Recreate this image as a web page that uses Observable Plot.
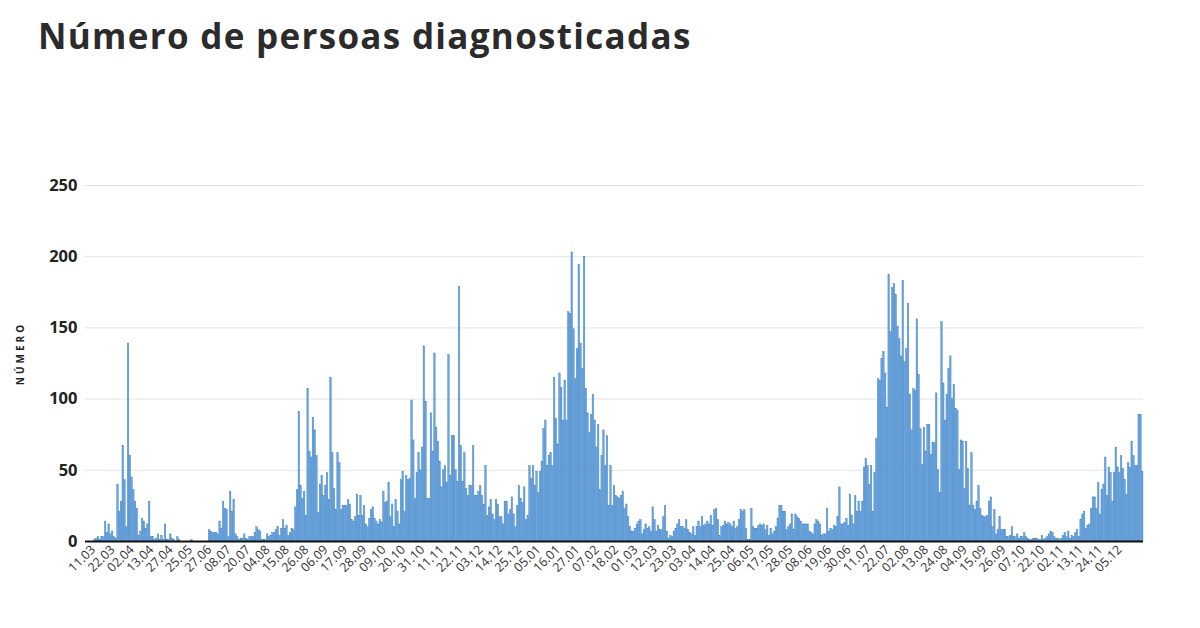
<!DOCTYPE html>
<html><head><meta charset="utf-8">
<script src="https://cdn.jsdelivr.net/npm/d3@7"></script>
<script src="https://cdn.jsdelivr.net/npm/@observablehq/plot@0.6"></script>
<style>
body{margin:0;background:#fff;width:1200px;height:628px;overflow:hidden;font-family:"Open Sans",sans-serif;}
#title{position:absolute;left:38px;top:15px;font-size:35px;font-weight:700;color:#2b2b2b;margin:0;line-height:1.2;letter-spacing:1.3px;}
#chart{position:absolute;left:0;top:80px;}
</style></head><body>
<h1 id="title">Número de persoas diagnosticadas</h1>
<div id="chart"></div>
<script>
const values = [
0,0,0,0,0,1,2,3,1,3,
3,14,6,12,5,7,3,2,40,21,
28,67,43,10,139,60,45,36,28,23,
4,7,16,14,9,12,28,3,3,1,
2,5,1,4,1,12,1,1,5,2,
1,0,3,1,0,0,0,0,0,0,
1,0,0,0,0,0,0,0,0,0,
8,7,6,6,6,5,14,9,28,23,
22,3,35,21,29,5,3,1,2,2,
5,2,1,3,3,3,6,10,8,7,
1,1,1,5,3,4,6,6,8,10,
4,9,15,9,11,4,6,9,8,24,
36,91,39,30,35,18,107,63,59,87,
78,60,20,40,46,32,39,48,29,115,
62,37,22,62,55,22,25,25,25,29,
26,15,14,17,33,18,32,18,25,12,
10,16,22,24,16,14,12,15,13,35,
27,28,41,17,26,10,29,21,12,43,
49,21,46,43,44,99,71,30,48,62,
50,66,137,98,30,30,90,63,132,80,
70,56,38,50,53,41,131,46,74,74,
50,42,179,67,42,62,37,32,39,39,
67,32,32,35,39,32,26,53,18,24,
29,19,15,29,26,17,17,12,28,28,
19,22,31,19,10,25,39,30,27,38,
15,18,53,44,53,39,49,34,49,56,
79,85,53,60,62,53,115,86,68,118,
108,85,113,85,161,160,203,149,114,135,
194,139,121,200,107,90,76,89,103,85,
66,82,36,60,78,53,74,25,53,25,
39,32,31,30,32,35,23,26,17,10,
7,7,9,12,14,15,5,8,12,9,
10,7,24,15,7,11,8,8,17,25,
7,2,4,3,7,9,12,15,10,10,
9,15,8,6,5,10,4,10,14,10,
17,11,12,14,12,18,11,22,23,15,
4,10,11,14,12,13,12,10,14,9,
10,15,22,21,22,9,1,1,23,10,
9,9,11,12,11,12,8,11,4,9,
5,7,10,16,25,25,21,21,8,10,
12,19,8,19,17,16,14,12,12,12,
12,7,6,5,12,15,14,12,4,5,
5,23,7,9,8,11,10,17,38,12,
12,13,16,11,33,18,12,32,21,28,
21,28,52,58,53,40,53,21,48,72,
114,113,128,133,118,94,187,147,178,181,
173,151,142,130,183,126,135,167,103,78,
107,106,156,117,79,54,80,63,82,82,
61,69,69,104,50,34,154,111,85,103,
121,130,100,110,93,92,50,71,70,37,
70,51,25,62,25,22,28,39,23,18,
17,17,18,28,31,10,22,5,8,17,
8,8,8,3,3,4,10,3,3,5,
2,3,3,6,3,2,1,1,2,2,
2,1,1,4,1,2,3,5,7,6,
3,2,2,1,2,4,6,3,7,2,
4,3,6,8,3,15,19,21,9,11,
12,23,31,31,23,41,19,36,40,59,
32,52,48,28,48,66,52,48,60,51,
43,33,55,52,70,60,53,53,89,89,
49
];
const tickLabels = ["11.03","22.03","02.04","13.04","27.04","25.05","27.06","08.07","20.07","04.08","15.08","26.08","06.09","17.09","28.09","09.10","20.10","31.10","11.11","22.11","03.12","14.12","25.12","05.01","16.01","27.01","07.02","18.02","01.03","12.03","23.03","03.04","14.04","25.04","06.05","17.05","28.05","08.06","19.06","30.06","11.07","22.07","02.08","13.08","24.08","04.09","15.09","26.09","07.10","22.10","02.11","13.11","24.11","05.12"];
const yTicks = [0,50,100,150,200,250];
const yLabel = "NÚMERO";
const firstTick = 4, tickStep = 11;

const data = values.map((v, i) => ({i, v}));
const tickIdx = tickLabels.map((_, k) => firstTick + k * tickStep);
const labelOf = new Map(tickIdx.map((t, k) => [t, tickLabels[k]]));

const chart = Plot.plot({
  width: 1200, height: 548,
  marginTop: 105, marginBottom: 87, marginLeft: 85, marginRight: 57,
  style: {fontFamily: '"Open Sans", sans-serif', background: "#fff"},
  x: {type: "band", domain: d3.range(values.length), paddingInner: 0.12, paddingOuter: 0},
  y: {domain: [0, 250]},
  marks: [
    Plot.gridY(yTicks.slice(1), {stroke: "#e4e4e4", strokeOpacity: 1}),
    Plot.barY(data, {x: "i", y: "v", fill: "#6aa5de", stroke: "#3f80c4", strokeWidth: 0.4}),
    Plot.ruleY([0], {stroke: "#111", strokeWidth: 2}),
    Plot.axisY({ticks: yTicks, tickSize: 0, tickPadding: 8, fontSize: 16.5, fontWeight: 700, fill: "#222", label: null}),
    Plot.axisX({ticks: tickIdx, tickFormat: d => labelOf.get(d), tickRotate: -45, tickSize: 0, tickPadding: 6, fontSize: 12.5, fill: "#333", label: null}),
    Plot.text([yLabel], {frameAnchor: "left", textAnchor: "middle", rotate: -90, dx: -65, dy: -10, fontSize: 10, fontWeight: 700, fill: "#222"})
  ]
});
d3.select(chart).selectAll('g[aria-label="text"] text').attr("letter-spacing", 3);
document.getElementById("chart").appendChild(chart);
</script>
</body></html>
